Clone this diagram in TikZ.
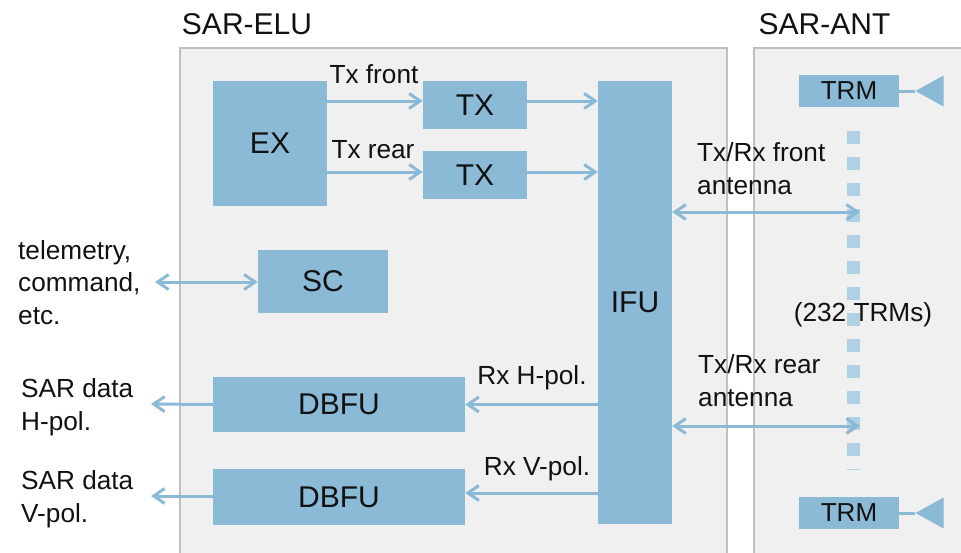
\documentclass[tikz,border=0pt]{standalone}
\usepackage{fontspec}
\setmainfont{Liberation Sans}
\usetikzlibrary{arrows.meta,shapes.geometric}
\definecolor{boxblue}{HTML}{8BBAD6}
\definecolor{dotblue}{HTML}{B0D0E3}
\definecolor{panelfill}{HTML}{F0F0F0}
\definecolor{panelline}{HTML}{BFBFBF}
\definecolor{inktext}{HTML}{111111}
\tikzset{
  panel/.style={fill=panelfill,draw=panelline,line width=1.6pt},
  block/.style={fill=boxblue,draw=none,inner sep=0pt,text=inktext,font=\fontsize{30}{32}\selectfont},
  trmbox/.style={block,minimum width=100pt,minimum height=32pt,font=\fontsize{26}{30}\selectfont},
  lbl/.style={inner sep=0pt,text=inktext,font=\fontsize{26.2}{32.5}\selectfont,align=left},
  title/.style={inner sep=0pt,text=inktext,font=\fontsize{30}{34}\selectfont},
  conn/.style={draw=boxblue,line width=3pt,-{Straight Barb[length=11pt,width=15pt,line width=3pt]}},
  biconn/.style={draw=boxblue,line width=3pt,{Straight Barb[length=11pt,width=15pt,line width=3pt]}-{Straight Barb[length=11pt,width=15pt,line width=3pt]}},
  stub/.style={draw=boxblue,line width=3pt},
  feed/.style={draw=dotblue,line width=13pt,dash pattern=on 13pt off 13pt},
  radiator/.style={isosceles triangle,isosceles triangle stretches,shape border rotate=180,fill=boxblue,inner sep=0pt,minimum width=31pt,minimum height=28pt,anchor=apex},
}
\begin{document}
\begin{tikzpicture}[x=1pt,y=-1pt]
\useasboundingbox (0,0) rectangle (961,552);
\begin{scope}
\clip (0,0) rectangle (961,552);
\draw[panel] (180,48) rectangle (727,570);
\draw[panel] (754,48) rectangle (980,570);
\end{scope}
\node[title] (elu) at (247,24) {SAR-ELU};
\node[title] (ant) at (824.5,24) {SAR-ANT};

% antenna feed column
\coordinate (feedtop) at (853.5,131);
\coordinate (feedbot) at (853.5,470);
\draw[feed] (feedtop) -- (feedbot);

\node[block,minimum width=114pt,minimum height=125pt] (ex) at (270,143.5) {EX};
\node[block,minimum width=104pt,minimum height=48pt] (tx1) at (475,105) {TX};
\node[block,minimum width=104pt,minimum height=48pt] (tx2) at (475,175) {TX};
\node[block,minimum width=74pt,minimum height=443pt] (ifu) at (635,302.5) {IFU};
\node[block,minimum width=130pt,minimum height=63pt] (sc) at (323,281.5) {SC};
\node[block,minimum width=252pt,minimum height=55pt] (db1) at (339,404.5) {DBFU};
\node[block,minimum width=252pt,minimum height=56pt] (db2) at (339,497) {DBFU};
\node[trmbox] (trm1) at (849,91) {TRM};
\node[trmbox] (trm2) at (849,513) {TRM};
\node[radiator] (rad1) at (915,91) {};
\node[radiator] (rad2) at (915,513) {};
\draw[stub] (trm1.east) -- (rad1.apex);
\draw[stub] (trm2.east) -- (rad2.apex);

% free ends
\coordinate (front) at (860,212);
\coordinate (rear) at (860,426);
\coordinate (tmtc) at (155,282);
\coordinate (outh) at (151,404);
\coordinate (outv) at (151,496);

% connectors
\draw[conn] ([yshift=4pt]tx1.west -| ex.east) -- ([yshift=4pt]tx1.west);
\draw[conn] ([yshift=3pt]tx2.west -| ex.east) -- ([yshift=3pt]tx2.west);
\draw[conn] ([yshift=4pt]tx1.east) -- ([yshift=4pt]tx1.east -| ifu.west);
\draw[conn] ([yshift=3pt]tx2.east) -- ([yshift=3pt]tx2.east -| ifu.west);
\draw[biconn] (front -| ifu.east) -- (front);
\draw[biconn] (rear -| ifu.east) -- (rear);
\draw[biconn] (tmtc) -- (tmtc -| sc.west);
\draw[conn] (db1.east -| ifu.west) -- (db1.east);
\draw[conn] ([yshift=4pt]db2.east -| ifu.west) -- ([yshift=4pt]db2.east);
\draw[conn] (db1.west) -- (outh);
\draw[conn] (db2.west |- outv) -- (outv);

% labels
\node[lbl,anchor=base] (l1) at (374,83) {Tx front};
\node[lbl,anchor=base] (l2) at (373,158) {Tx rear};
\node[lbl,anchor=base west] (l3) at (697,194) {Tx/Rx front\\antenna};
\node[lbl,anchor=base west] (l4) at (698,406) {Tx/Rx rear\\antenna};
\node[lbl,anchor=base] (l5) at (532,384) {Rx H-pol.};
\node[lbl,anchor=base] (l6) at (537,475) {Rx V-pol.};
\node[lbl,anchor=base west] (l7) at (18,324) {telemetry,\\command,\\etc.};
\node[lbl,anchor=base west] (l8) at (21,430) {SAR data\\H-pol.};
\node[lbl,anchor=base west] (l9) at (21,522) {SAR data\\V-pol.};
\node[lbl,anchor=base] (l10) at (863,321) {(232 TRMs)};
\end{tikzpicture}
\end{document}
